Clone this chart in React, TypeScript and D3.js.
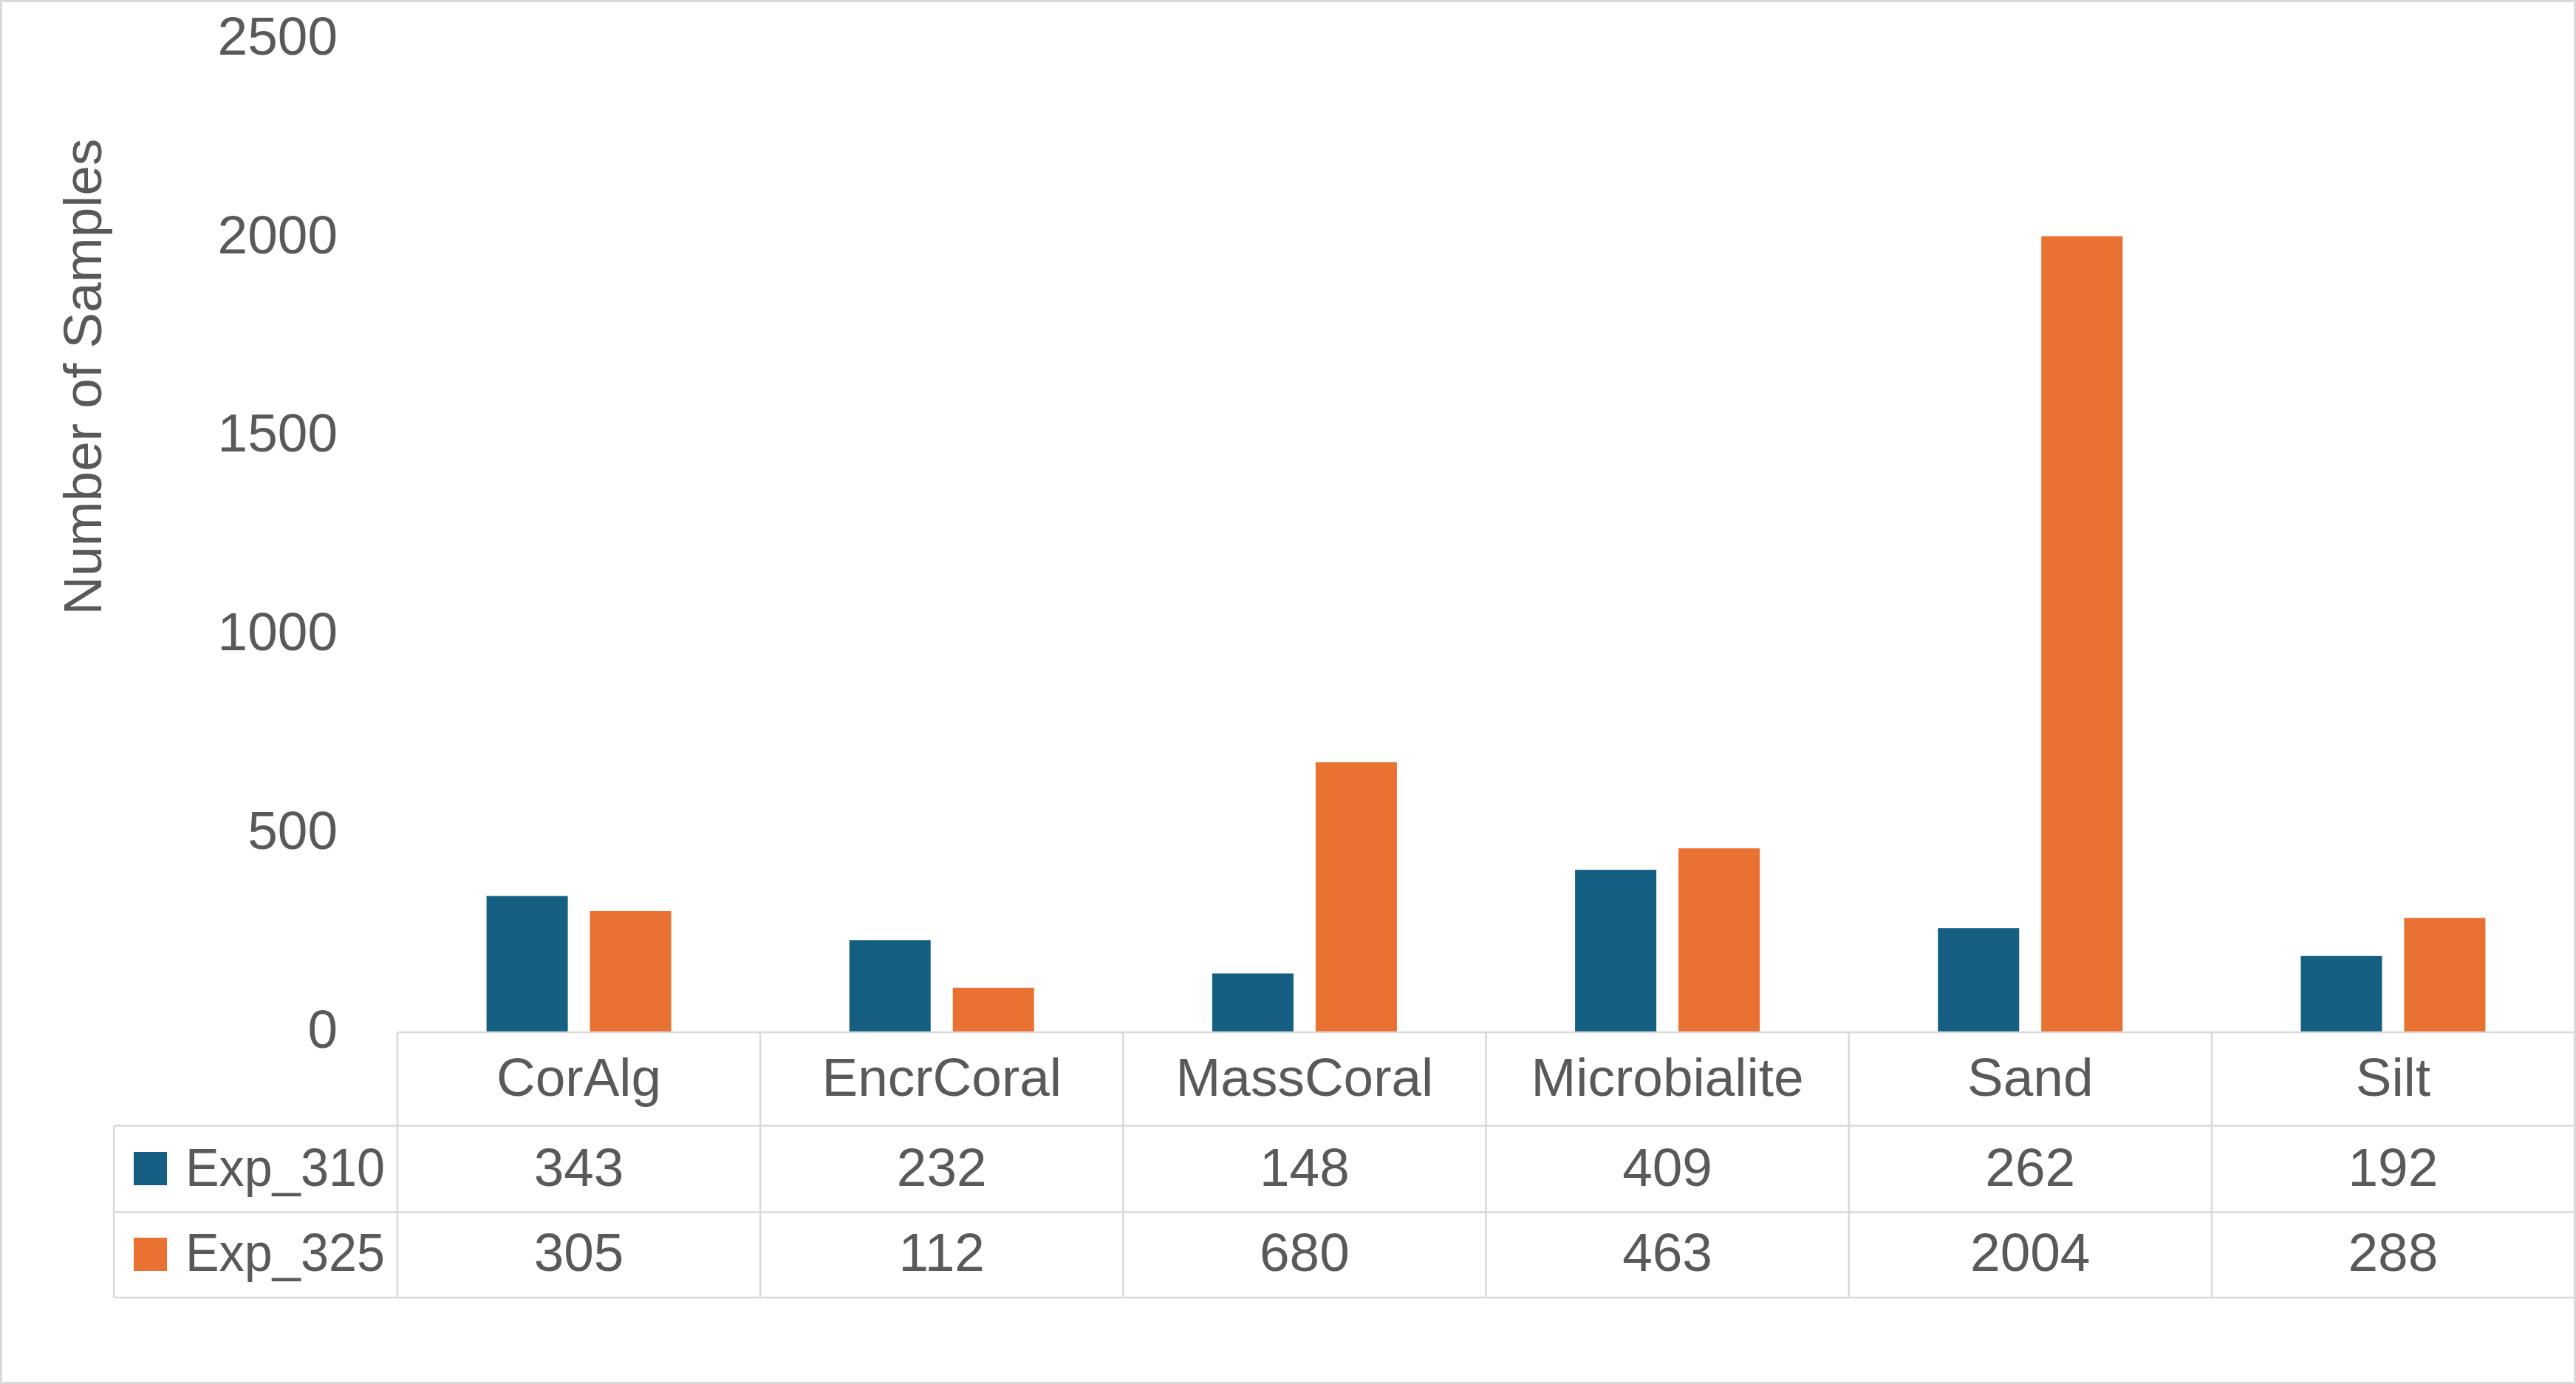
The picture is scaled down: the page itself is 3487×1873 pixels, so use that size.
import React, { useEffect, useRef } from 'react';
import * as d3 from 'd3';

const categories = ['CorAlg', 'EncrCoral', 'MassCoral', 'Microbialite', 'Sand', 'Silt'];
const seriesNames = ['Exp_310', 'Exp_325'];
const exp310 = [343, 232, 148, 409, 262, 192];
const exp325 = [305, 112, 680, 463, 2004, 288];
const yTicks = [0, 500, 1000, 1500, 2000, 2500];
const seriesColors = ['#156082', '#E97132'];

const W = 3487;
const H = 1873;
const FONT = '"Liberation Sans", Arial, sans-serif';
const TEXT = '#595959';
const LINE = '#D9D9D9';

const App: React.FC = () => {
  const svgRef = useRef<SVGSVGElement>(null);

  useEffect(() => {
    document.body.style.margin = '0';
    if (!svgRef.current) return;

    const svg = d3.select(svgRef.current);
    svg.selectAll('*').remove();

    const values = [exp310, exp325];

    // layout
    const plotLeft = 538;
    const plotRight = 3485;
    const baseY = 1397;
    const topY = 53;
    const headerBottom = 1523.5;
    const row1Bottom = 1640.5;
    const tableBottom = 1756;
    const legendLeft = 154;
    const fs = 73;

    svg.append('rect')
      .attr('x', 0).attr('y', 0).attr('width', W).attr('height', H)
      .attr('fill', '#ffffff');

    svg.append('rect')
      .attr('x', 1.5).attr('y', 1.5).attr('width', W - 3).attr('height', H - 3)
      .attr('fill', 'none')
      .attr('stroke', LINE)
      .attr('stroke-width', 3);

    // Scales
    const x0 = d3.scaleBand<string>()
      .domain(categories)
      .range([plotLeft, plotRight])
      .padding(0);

    const groupW = 250;
    const x1 = d3.scaleBand<string>()
      .domain(seriesNames)
      .range([(x0.bandwidth() - groupW) / 2, (x0.bandwidth() + groupW) / 2])
      .paddingInner(0.214)
      .paddingOuter(0);

    const y = d3.scaleLinear()
      .domain([0, 2500])
      .range([baseY, topY]);

    // Bars
    const g = svg.append('g');
    seriesNames.forEach((s, si) => {
      g.selectAll(null)
        .data(categories)
        .enter()
        .append('rect')
        .attr('x', (c) => (x0(c) || 0) + (x1(s) || 0))
        .attr('y', (c, i) => y(values[si][i]))
        .attr('width', x1.bandwidth())
        .attr('height', (c, i) => baseY - y(values[si][i]))
        .attr('fill', seriesColors[si]);
    });

    // Y axis
    const yAxis = svg.append('g')
      .attr('transform', `translate(${plotLeft},-3)`)
      .call(d3.axisLeft(y).tickValues(yTicks).tickSize(0).tickPadding(81).tickFormat(d3.format('d')));
    yAxis.select('.domain').remove();
    yAxis.selectAll('text')
      .style('font-family', FONT)
      .style('font-size', `${fs}px`)
      .attr('fill', TEXT);

    svg.append('text')
      .attr('transform', `translate(137,510) rotate(-90)`)
      .attr('text-anchor', 'middle')
      .style('font-family', FONT)
      .style('font-size', `${fs}px`)
      .attr('fill', TEXT)
      .text('Number of Samples');

    // Data table lines
    const lines = svg.append('g')
      .attr('stroke', LINE)
      .attr('stroke-width', 2.5)
      .attr('fill', 'none');

    lines.append('line').attr('x1', plotLeft).attr('x2', plotRight).attr('y1', baseY).attr('y2', baseY);
    [headerBottom, row1Bottom, tableBottom].forEach((yy) => {
      lines.append('line').attr('x1', legendLeft).attr('x2', plotRight).attr('y1', yy).attr('y2', yy);
    });
    lines.append('line').attr('x1', legendLeft).attr('x2', legendLeft).attr('y1', headerBottom).attr('y2', tableBottom);
    const cuts = categories.map((c) => x0(c) || 0).concat([plotRight]);
    cuts.forEach((xx) => {
      lines.append('line').attr('x1', xx).attr('x2', xx).attr('y1', baseY).attr('y2', tableBottom);
    });

    // Category labels
    svg.append('g')
      .selectAll('text')
      .data(categories)
      .enter()
      .append('text')
      .attr('x', (c) => (x0(c) || 0) + x0.bandwidth() / 2)
      .attr('y', 1483)
      .attr('text-anchor', 'middle')
      .style('font-family', FONT)
      .style('font-size', `${fs}px`)
      .attr('fill', TEXT)
      .text((c) => c);

    // Value rows + legend keys
    const rowBase = [1605, 1720];
    const rowKeyTop = [1559, 1675];
    seriesNames.forEach((s, si) => {
      svg.append('rect')
        .attr('x', 181)
        .attr('y', rowKeyTop[si])
        .attr('width', 45)
        .attr('height', 45)
        .attr('fill', seriesColors[si]);

      svg.append('text')
        .attr('x', 251)
        .attr('y', rowBase[si])
        .attr('textLength', 270)
        .attr('lengthAdjust', 'spacingAndGlyphs')
        .style('font-family', FONT)
        .style('font-size', `${fs}px`)
        .attr('fill', TEXT)
        .text(s);

      svg.append('g')
        .selectAll('text')
        .data(values[si])
        .enter()
        .append('text')
        .attr('x', (v, i) => (x0(categories[i]) || 0) + x0.bandwidth() / 2)
        .attr('y', rowBase[si])
        .attr('text-anchor', 'middle')
        .style('font-family', FONT)
        .style('font-size', `${fs}px`)
        .attr('fill', TEXT)
        .text((v) => String(v));
    });
  }, []);

  return (
    <svg
      ref={svgRef}
      width={W}
      height={H}
      viewBox={`0 0 ${W} ${H}`}
      style={{ display: 'block', position: 'absolute', left: 0, top: 0 }}
    />
  );
};

export default App;
